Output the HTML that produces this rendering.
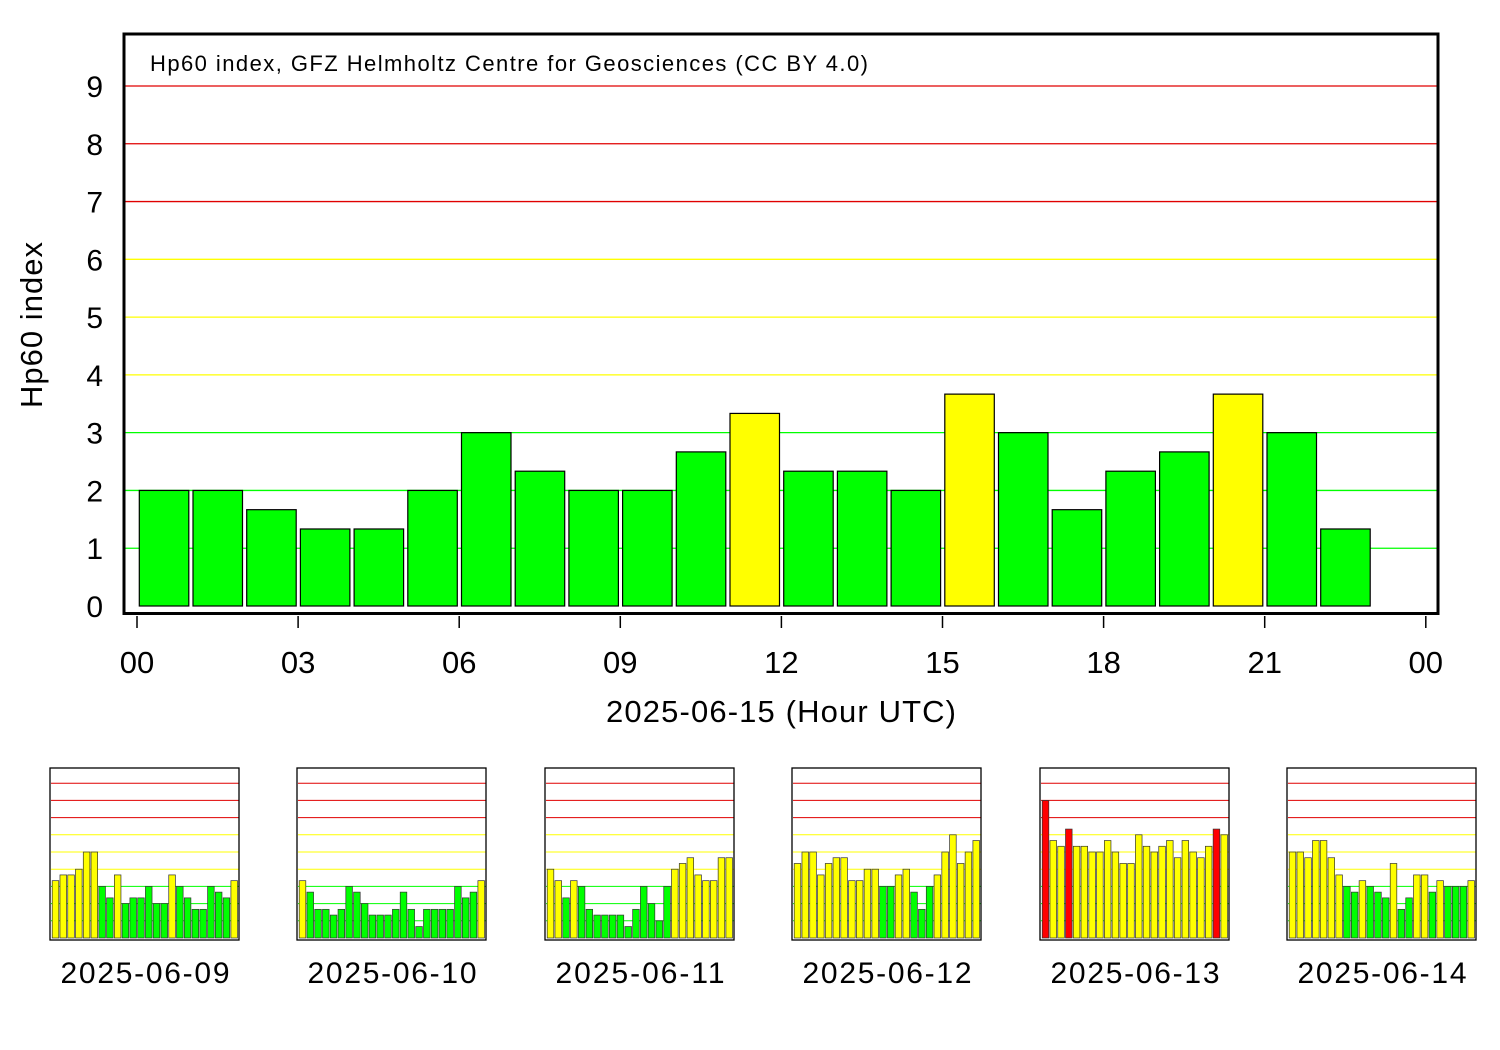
<!DOCTYPE html>
<html><head><meta charset="utf-8"><style>
html,body{margin:0;padding:0;background:#fff;}
svg{display:block;font-family:"Liberation Sans",Arial,sans-serif;}
</style></head><body>
<svg id="c" width="1500" height="1050" viewBox="0 0 1500 1050" xmlns="http://www.w3.org/2000/svg">
<g id="main"></g>
<g id="small"></g>
</svg>
<script>
const hours = [0,1,2,3,4,5,6,7,8,9,10,11,12,13,14,15,16,17,18,19,20,21,22];
const mainValues = [2,2,1.667,1.333,1.333,2,3,2.333,2,2,2.667,3.333,2.333,2.333,2,3.667,3,1.667,2.333,2.667,3.667,3,1.333];
const yTicks = ["0","1","2","3","4","5","6","7","8","9"];
const xTickLabels = ["00","03","06","09","12","15","18","21","00"];
const dayLabels = ["2025-06-09","2025-06-10","2025-06-11","2025-06-12","2025-06-13","2025-06-14"];
const day09 = [3.333,3.667,3.667,4,5,5,3,2.333,3.667,2,2.333,2.333,3,2,2,3.667,3,2.333,1.667,1.667,3,2.667,2.333,3.333];
const day10 = [3.333,2.667,1.667,1.667,1.333,1.667,3,2.667,2,1.333,1.333,1.333,1.667,2.667,1.667,0.667,1.667,1.667,1.667,1.667,3,2.333,2.667,3.333];
const day11 = [4,3.333,2.333,3.333,3,1.667,1.333,1.333,1.333,1.333,0.667,1.667,3,2,1,3,4,4.333,4.667,3.667,3.333,3.333,4.667,4.667];
const day12 = [4.333,5,5,3.667,4.333,4.667,4.667,3.333,3.333,4,4,3,3,3.667,4,2.667,1.667,3,3.667,5,6,4.333,5,5.667];
const day13 = [8,5.667,5.333,6.333,5.333,5.333,5,5,5.667,5,4.333,4.333,6,5.333,5,5.333,5.667,4.667,5.667,5,4.667,5.333,6.333,6];
const day14 = [5,5,4.667,5.667,5.667,4.667,3.667,3,2.667,3.333,3,2.667,2.333,4.333,1.667,2.333,3.667,3.667,2.667,3.333,3,3,3,3.333];
const smallDays = [day09,day10,day11,day12,day13,day14];

const NS="http://www.w3.org/2000/svg";
function mk(parent,tag,attrs,text){const e=document.createElementNS(NS,tag);for(const k in attrs)e.setAttribute(k,attrs[k]);if(text!==undefined)e.textContent=text;parent.appendChild(e);return e;}
function barColor(v){return v>6?"#ff0000":(v>3?"#ffff00":"#00ff00");}
function lineColor(i){return i>=7?"#e00000":(i>=4?"#ffff00":"#00ff00");}

// main chart
const main=document.getElementById('main');
const X0=137, HW=53.7, Y0=606, YU=57.78;
const mx=h=>X0+h*HW, my=v=>Y0-v*YU;
for(let i=1;i<=9;i++){
  const l=mk(main,'line',{x1:125,x2:1437,y1:my(i),y2:my(i),stroke:lineColor(i),'stroke-width':1.3});
  
  
}
hours.forEach((h,i)=>{
  const v=mainValues[i];
  const r=mk(main,'rect',{x:mx(h)+2.3,y:my(v),width:49.5,height:my(0)-my(v),fill:barColor(v),stroke:'#000','stroke-width':1.2});
  
  
});
const frame=mk(main,'rect',{x:124,y:34,width:1314,height:579.5,fill:'none',stroke:'#000','stroke-width':3});


yTicks.forEach((t,i)=>{
  const e=mk(main,'text',{x:103,y:my(i)+11,'font-size':30,'text-anchor':'end'},t);
  
  
});
xTickLabels.forEach((t,i)=>{
  const x=mx(i*3);
  const tk=mk(main,'line',{x1:x,x2:x,y1:616,y2:628,stroke:'#000','stroke-width':1.5});
  
  
  const e=mk(main,'text',{x:x,y:673,'font-size':31,'text-anchor':'middle'},t);
  
  
});
const xt=mk(main,'text',{x:781,y:722,'font-size':31,'text-anchor':'middle',textLength:350},'2025-06-15 (Hour UTC)');


const yt=mk(main,'text',{x:0,y:0,'font-size':31,'text-anchor':'middle',transform:'translate(42,325) rotate(-90)',textLength:166},'Hp60 index');


const an=mk(main,'text',{x:150,y:71,'font-size':22,textLength:718},'Hp60 index, GFZ Helmholtz Centre for Geosciences (CC BY 4.0)');



// small charts
const small=document.getElementById('small');
const lefts=[50,297,545,792,1040,1287];
smallDays.forEach((vals,d)=>{
  const L=lefts[d], SB=938, SU=17.2, SW=7.77;
  const sx=h=>L+2+h*SW, sy=v=>SB-v*SU;
  const g=mk(small,'g',{});
  
  
  for(let i=1;i<=9;i++){
    const l=mk(g,'line',{x1:L+1,x2:L+189,y1:sy(i),y2:sy(i),stroke:lineColor(i),'stroke-width':1});
    
    
  }
  vals.forEach((v,h)=>{
    const r=mk(g,'rect',{x:sx(h)+0.2,y:sy(v),width:6.6,height:sy(0)-sy(v),fill:barColor(v),stroke:'#333','stroke-width':0.7});
    
    
  });
  const f=mk(g,'rect',{x:L,y:768,width:189,height:172,fill:'none',stroke:'#000','stroke-width':1.3});
  
  
  const t=mk(g,'text',{x:L+95,y:983,'font-size':30,'text-anchor':'middle',textLength:169},dayLabels[d]);
  
  
});
</script>
</body></html>
